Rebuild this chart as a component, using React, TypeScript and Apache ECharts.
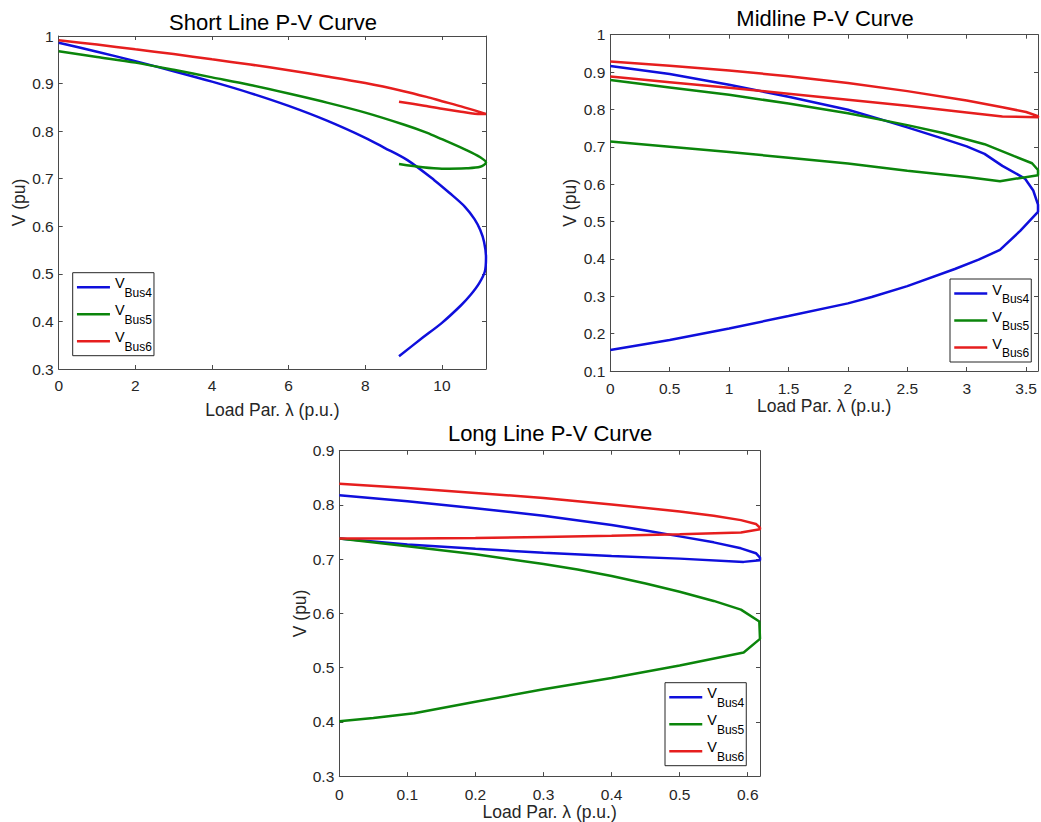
import React, { useEffect, useRef } from "react";
import * as echarts from "echarts";

// ---------- data ----------
const seriesNames = ["VBus4", "VBus5", "VBus6"];
const titles = ["Short Line P-V Curve", "Midline P-V Curve", "Long Line P-V Curve"];
const xAxisName = "Load Par. λ (p.u.)";
const yAxisName = "V (pu)";

// axis ranges / ticks
const xMin = [0, 0, 0];
const xMax = [11.15, 3.6, 0.618];
const xInterval = [2, 0.5, 0.1];
const yMin = [0.3, 0.1, 0.3];
const yMax = [1, 1, 0.9];
const yInterval = [0.1, 0.1, 0.1];

// Short line
const shortBus4 = [
  [0, 0.986], [1, 0.967], [2, 0.947], [3, 0.926], [4, 0.904], [5, 0.88], [6, 0.853],
  [7, 0.822], [8, 0.786], [8.5, 0.765], [9.1, 0.739], [9.8, 0.697], [10.2, 0.67],
  [10.6, 0.641], [10.85, 0.615], [11.0, 0.592], [11.1, 0.567], [11.15, 0.535],
  [11.12, 0.505], [10.97, 0.48], [10.75, 0.456], [10.5, 0.434], [10.0, 0.397],
  [9.5, 0.366], [8.88, 0.327],
];
const shortBus5 = [
  [0, 0.968], [1, 0.956], [2, 0.944], [3, 0.929], [4, 0.913], [5, 0.897], [6, 0.879],
  [7, 0.86], [8, 0.839], [9, 0.814], [9.6, 0.797], [10, 0.783], [10.64, 0.76],
  [11.0, 0.745], [11.15, 0.734], [11.0, 0.725], [10.64, 0.722], [10.0, 0.721],
  [9.5, 0.724], [8.88, 0.731],
];
const shortBus6 = [
  [0, 0.991], [1, 0.982], [2, 0.972], [3, 0.962], [4, 0.951], [5, 0.94], [6, 0.928],
  [7, 0.915], [8, 0.901], [9, 0.884], [9.6, 0.872], [10, 0.863], [10.5, 0.852],
  [11, 0.84], [11.15, 0.836], [11.0, 0.836], [10.5, 0.841], [10, 0.847],
  [9.5, 0.854], [8.88, 0.862],
];

// Midline
const midBus4 = [
  [0, 0.916], [0.5, 0.895], [1, 0.866], [1.5, 0.834], [2, 0.799], [2.25, 0.776],
  [2.5, 0.752], [2.8, 0.722], [3.0, 0.701], [3.15, 0.681], [3.3, 0.649], [3.49, 0.615],
  [3.56, 0.583], [3.6, 0.545], [3.6, 0.526], [3.45, 0.475], [3.28, 0.424], [3.1, 0.398],
  [2.9, 0.373], [2.5, 0.327], [2.2, 0.298], [2.0, 0.281], [1.5, 0.247], [1.0, 0.214],
  [0.5, 0.183], [0, 0.156],
];
const midBus5 = [
  [0, 0.879], [0.5, 0.859], [1, 0.839], [1.5, 0.816], [2, 0.79], [2.25, 0.774],
  [2.5, 0.758], [2.8, 0.737], [3.15, 0.707], [3.4, 0.675], [3.55, 0.656], [3.6, 0.638],
  [3.6, 0.624], [3.28, 0.608], [3.0, 0.619], [2.5, 0.636], [2, 0.655], [1.5, 0.671],
  [1, 0.686], [0.5, 0.7], [0, 0.714],
];
const midBus6 = [
  [0, 0.928], [0.5, 0.917], [1, 0.904], [1.5, 0.889], [2, 0.871], [2.5, 0.849],
  [3, 0.824], [3.3, 0.806], [3.5, 0.793], [3.6, 0.782], [3.6, 0.779], [3.3, 0.781],
  [3, 0.792], [2.5, 0.81], [2, 0.826], [1.5, 0.842], [1, 0.858], [0.5, 0.873], [0, 0.888],
];

// Long line
const longBus4 = [
  [0, 0.818], [0.1, 0.807], [0.2, 0.794], [0.3, 0.78], [0.4, 0.763], [0.45, 0.753],
  [0.5, 0.742], [0.55, 0.731], [0.59, 0.72], [0.612, 0.711], [0.618, 0.703], [0.618, 0.698],
  [0.594, 0.695], [0.5, 0.701], [0.4, 0.706], [0.3, 0.712], [0.2, 0.719], [0.1, 0.727],
  [0, 0.738],
];
const longBus5 = [
  [0, 0.738], [0.1, 0.724], [0.2, 0.709], [0.3, 0.691], [0.35, 0.681], [0.4, 0.669],
  [0.45, 0.655], [0.5, 0.64], [0.55, 0.623], [0.59, 0.607], [0.617, 0.585], [0.618, 0.553],
  [0.594, 0.528], [0.5, 0.504], [0.4, 0.481], [0.3, 0.46], [0.2, 0.437], [0.11, 0.416],
  [0.05, 0.407], [0, 0.401],
];
const longBus6 = [
  [0, 0.839], [0.1, 0.831], [0.2, 0.822], [0.3, 0.813], [0.4, 0.801], [0.5, 0.788],
  [0.55, 0.78], [0.59, 0.772], [0.612, 0.765], [0.618, 0.758], [0.618, 0.755], [0.59, 0.749],
  [0.5, 0.746], [0.4, 0.743], [0.3, 0.741], [0.2, 0.739], [0.1, 0.738], [0, 0.738],
];

const panelData = [
  [shortBus4, shortBus5, shortBus6],
  [midBus4, midBus5, midBus6],
  [longBus4, longBus5, longBus6],
];

// ---------- style ----------
const FONT = '"Liberation Sans", Arial, Helvetica, sans-serif';
const COLORS = ["#0f0fdc", "#0b850b", "#e61e1e"];
const AXIS_COLOR = "#4a4a4a";
const TEXT_COLOR = "#262626";
const panelSmooth = [0.3, false, false];

const grids = [
  { left: 58.7, top: 36, width: 427.3, height: 333 },
  { left: 610.3, top: 34.7, width: 430, height: 336.3 },
  { left: 339.3, top: 450.7, width: 420.7, height: 327.6 },
];
const titlePos = [
  [273, 22],
  [825, 18.5],
  [550, 433],
];
const xNameGap = [32, 25, 24.5];
const yNameGap = [30, 31.5, 30.5];
const xLabelMargin = [8, 9, 10];
const legendPos = [
  { left: 72.7, top: 272.7 },
  { left: 950, top: 279 },
  { left: 665, top: 682.7 },
];

function tickFormatter(interval: number) {
  return (v: number) => {
    const k = v / interval;
    if (Math.abs(k - Math.round(k)) > 1e-6) return "";
    const r = Math.round(k) * interval;
    return String(parseFloat(r.toFixed(4)));
  };
}

export default function App() {
  const ref = useRef<HTMLDivElement>(null);
  useEffect(() => {
    if (!ref.current) return;
    const chart = echarts.init(ref.current, undefined, { renderer: "svg" });

    const xAxes: any[] = [];
    const yAxes: any[] = [];
    const series: any[] = [];
    const legends: any[] = [];
    const graphics: any[] = [];

    grids.forEach((g, i) => {
      const lineStyle = { color: AXIS_COLOR, width: 1 };
      const common = {
        type: "value",
        gridIndex: i,
        axisLine: { show: true, onZero: false, lineStyle },
        axisTick: { show: true, inside: true, length: 4, lineStyle },
        splitLine: { show: false },
      };
      const labelStyle = { fontFamily: FONT, fontSize: 15.5, color: TEXT_COLOR };
      const nameStyle = { fontFamily: FONT, fontSize: 17.5, color: TEXT_COLOR };
      xAxes.push({
        ...common,
        position: "bottom",
        min: xMin[i],
        max: xMax[i],
        interval: xInterval[i],
        name: xAxisName,
        nameLocation: "middle",
        nameGap: xNameGap[i],
        nameTextStyle: nameStyle,
        axisLabel: { show: true, margin: xLabelMargin[i], ...labelStyle, formatter: tickFormatter(xInterval[i]) },
      });
      xAxes.push({
        ...common,
        position: "top",
        min: xMin[i],
        max: xMax[i],
        interval: xInterval[i],
        axisLabel: { show: false },
      });
      yAxes.push({
        ...common,
        position: "left",
        min: yMin[i],
        max: yMax[i],
        interval: yInterval[i],
        name: yAxisName,
        nameLocation: "middle",
        nameGap: yNameGap[i],
        nameTextStyle: nameStyle,
        axisLabel: { show: true, margin: 5, ...labelStyle, formatter: tickFormatter(yInterval[i]) },
      });
      yAxes.push({
        ...common,
        position: "right",
        min: yMin[i],
        max: yMax[i],
        interval: yInterval[i],
        axisLabel: { show: false },
      });

      panelData[i].forEach((d, k) => {
        series.push({
          type: "line",
          name: seriesNames[k],
          xAxisIndex: 2 * i,
          yAxisIndex: 2 * i,
          data: d,
          symbol: "none",
          showSymbol: false,
          smooth: panelSmooth[i],
          color: COLORS[k],
          lineStyle: { color: COLORS[k], width: 2.5 },
        });
      });

      legends.push({
        orient: "vertical",
        left: legendPos[i].left,
        top: legendPos[i].top,
        data: seriesNames,
        padding: [3, 2, 3, 3],
        itemGap: 4,
        itemWidth: 33,
        itemHeight: 14,
        borderColor: "#262626",
        borderWidth: 1,
        borderRadius: 0,
        backgroundColor: "#ffffff",
        selectedMode: false,
        itemStyle: { opacity: 0 },
        lineStyle: { width: 2.5 },
        formatter: (name: string) => `{v|V}{s|${name.slice(1)}}`,
        textStyle: {
          fontFamily: FONT,
          color: "#000",
          rich: {
            v: { fontFamily: FONT, fontSize: 14.5, color: "#000", verticalAlign: "top" },
            s: { fontFamily: FONT, fontSize: 12, color: "#000", padding: [11, 0, 0, 0] },
          },
        },
      });

      graphics.push({
        type: "text",
        x: titlePos[i][0],
        y: titlePos[i][1],
        style: {
          text: titles[i],
          fill: "#000",
          fontFamily: FONT,
          fontSize: 22,
          align: "center",
          verticalAlign: "middle",
        },
      });
    });

    chart.setOption({
      animation: false,
      backgroundColor: "#ffffff",
      grid: grids.map((g) => ({ ...g, containLabel: false })),
      xAxis: xAxes,
      yAxis: yAxes,
      legend: legends,
      series,
      graphic: graphics,
    });
    return () => chart.dispose();
  }, []);

  return (
    <div
      ref={ref}
      style={{ position: "absolute", left: 0, top: 0, width: 1041, height: 822, background: "#fff" }}
    />
  );
}
